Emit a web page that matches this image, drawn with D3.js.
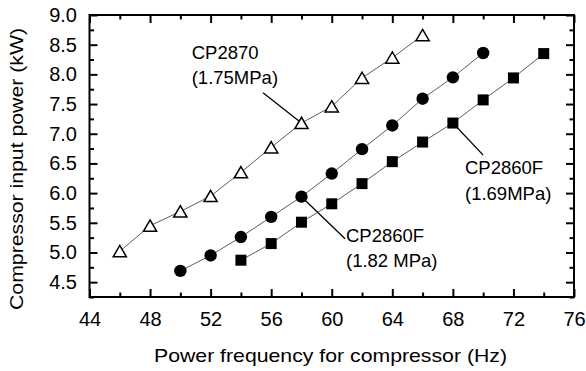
<!DOCTYPE html>
<html>
<head>
<meta charset="utf-8">
<script src="https://cdn.jsdelivr.net/npm/d3@7"></script>
<style>
  body { margin: 0; background: #fff; }
  text { font-family: "Liberation Sans", Arial, sans-serif; fill: #000; }
</style>
</head>
<body>
<div id="chart"></div>
<script>
// data
const freqCP2870 = [46, 48, 50, 52, 54, 56, 58, 60, 62, 64, 66];
const powerCP2870 = [5.02, 5.45, 5.69, 5.95, 6.35, 6.77, 7.18, 7.46, 7.94, 8.28, 8.66];

const freqCP2860F182 = [50, 52, 54, 56, 58, 60, 62, 64, 66, 68, 70];
const powerCP2860F182 = [4.69, 4.95, 5.26, 5.60, 5.94, 6.33, 6.74, 7.14, 7.59, 7.95, 8.36];

const freqCP2860F169 = [54, 56, 58, 60, 62, 64, 66, 68, 70, 72, 74];
const powerCP2860F169 = [4.87, 5.15, 5.51, 5.82, 6.16, 6.53, 6.86, 7.18, 7.57, 7.94, 8.35];

const xMajorTicks = [44, 48, 52, 56, 60, 64, 68, 72, 76];
const xMinorTicks = [46, 50, 54, 58, 62, 66, 70, 74];
const yMajorTicks = [4.5, 5.0, 5.5, 6.0, 6.5, 7.0, 7.5, 8.0, 8.5, 9.0];
const yMinorTicks = [4.25, 4.75, 5.25, 5.75, 6.25, 6.75, 7.25, 7.75, 8.25, 8.75];

// callouts: [label line 1, label line 2, text x, text y, leader end x, leader end y, point x, point y]
const callouts = [
  ["CP2870", "(1.75MPa)", 50.75, 8.26, 55.46, 7.69, 58, 7.18],
  ["CP2860F", "(1.69MPa)", 68.8, 6.32, 70.0, 6.64, 68, 7.18],
  ["CP2860F", "(1.82 MPa)", 60.94, 5.18, 60.88, 5.23, 58, 5.94]
];

const width = 586, height = 371;
const margin = { top: 15, right: 12, bottom: 74, left: 89.5 };
const plotW = width - margin.left - margin.right;
const plotH = height - margin.top - margin.bottom;

const svg = d3.select("#chart")
  .append("svg")
  .attr("width", width)
  .attr("height", height);

const g = svg.append("g")
  .attr("transform", `translate(${margin.left},${margin.top})`);

const x = d3.scaleLinear().domain([44, 76]).range([0, plotW]);
const y = d3.scaleLinear().domain([4.25, 9.0]).range([plotH, 0]);

// ---- axes: major ticks with labels, minor ticks, mirrored on top/right ----
const majorLen = 8, minorLen = 4.5;

function styleAxis(sel) {
  sel.select(".domain").remove();
  sel.selectAll(".tick line").attr("stroke", "#000").attr("stroke-width", 2);
}

g.append("g")
  .attr("transform", `translate(0,${plotH})`)
  .call(d3.axisBottom(x).tickValues(xMajorTicks).tickSize(-majorLen).tickPadding(14.3).tickFormat(d3.format("d")))
  .call(styleAxis)
  .selectAll("text")
  .style("font-size", "20px");

g.append("g")
  .attr("transform", `translate(0,${plotH})`)
  .call(d3.axisBottom(x).tickValues(xMinorTicks).tickSize(-minorLen).tickFormat(""))
  .call(styleAxis);

g.append("g")
  .call(d3.axisTop(x).tickValues(xMajorTicks).tickSize(-majorLen).tickFormat(""))
  .call(styleAxis);

g.append("g")
  .call(d3.axisTop(x).tickValues(xMinorTicks).tickSize(-minorLen).tickFormat(""))
  .call(styleAxis);

g.append("g")
  .call(d3.axisLeft(y).tickValues(yMajorTicks).tickSize(-majorLen).tickPadding(12.5).tickFormat(d3.format(".1f")))
  .call(styleAxis)
  .selectAll("text")
  .style("font-size", "20px");

g.append("g")
  .call(d3.axisLeft(y).tickValues(yMinorTicks).tickSize(-minorLen).tickFormat(""))
  .call(styleAxis);

g.append("g")
  .attr("transform", `translate(${plotW},0)`)
  .call(d3.axisRight(y).tickValues(yMajorTicks).tickSize(-majorLen).tickFormat(""))
  .call(styleAxis);

g.append("g")
  .attr("transform", `translate(${plotW},0)`)
  .call(d3.axisRight(y).tickValues(yMinorTicks).tickSize(-minorLen).tickFormat(""))
  .call(styleAxis);

// frame
g.append("rect")
  .attr("width", plotW)
  .attr("height", plotH)
  .attr("fill", "none")
  .attr("stroke", "#000")
  .attr("stroke-width", 2);

// ---- callout leaders ----
g.selectAll(".leader")
  .data(callouts)
  .enter()
  .append("line")
  .attr("x1", d => x(d[4]))
  .attr("y1", d => y(d[5]))
  .attr("x2", d => x(d[6]))
  .attr("y2", d => y(d[7]))
  .attr("stroke", "#000")
  .attr("stroke-width", 1.3);

// ---- series lines ----
const line = d3.line()
  .x(d => x(d[0]))
  .y(d => y(d[1]));

const series = [
  { name: "CP2870", pts: d3.zip(freqCP2870, powerCP2870), shape: "triangle" },
  { name: "CP2860F 1.82", pts: d3.zip(freqCP2860F182, powerCP2860F182), shape: "circle" },
  { name: "CP2860F 1.69", pts: d3.zip(freqCP2860F169, powerCP2860F169), shape: "square" }
];

series.forEach(s => {
  g.append("path")
    .datum(s.pts)
    .attr("d", line)
    .attr("fill", "none")
    .attr("stroke", "#333")
    .attr("stroke-width", 0.8);
});

// ---- markers ----
const tri = "M0,-5.8L6.6,5.5L-6.6,5.5Z";

g.selectAll(".tri")
  .data(series[0].pts)
  .enter()
  .append("path")
  .attr("d", tri)
  .attr("transform", d => `translate(${x(d[0])},${y(d[1])})`)
  .attr("fill", "#fff")
  .attr("stroke", "#000")
  .attr("stroke-width", 1.5)
  .attr("stroke-linejoin", "miter");

g.selectAll(".dot")
  .data(series[1].pts)
  .enter()
  .append("circle")
  .attr("cx", d => x(d[0]))
  .attr("cy", d => y(d[1]))
  .attr("r", 6.2)
  .attr("fill", "#000");

g.selectAll(".sq")
  .data(series[2].pts)
  .enter()
  .append("rect")
  .attr("x", d => x(d[0]) - 5.5)
  .attr("y", d => y(d[1]) - 5.5)
  .attr("width", 11)
  .attr("height", 11)
  .attr("fill", "#000");

// ---- callout labels ----
callouts.forEach(c => {
  const t = g.append("text")
    .attr("x", x(c[2]))
    .attr("y", y(c[3]))
    .style("font-size", "18.5px");
  t.append("tspan").attr("x", x(c[2])).text(c[0]);
  t.append("tspan").attr("x", x(c[2])).attr("dy", 25.5).text(c[1]);
});

// ---- axis titles ----
svg.append("text")
  .attr("x", 330.5)
  .attr("y", 361.5)
  .attr("text-anchor", "middle")
  .attr("textLength", 353)
  .attr("lengthAdjust", "spacingAndGlyphs")
  .style("font-size", "19px")
  .text("Power frequency for compressor (Hz)");

svg.append("text")
  .attr("transform", "translate(23,169) rotate(-90)")
  .attr("text-anchor", "middle")
  .attr("textLength", 282)
  .attr("lengthAdjust", "spacingAndGlyphs")
  .style("font-size", "19px")
  .text("Compressor input power (kW)");
</script>
</body>
</html>
